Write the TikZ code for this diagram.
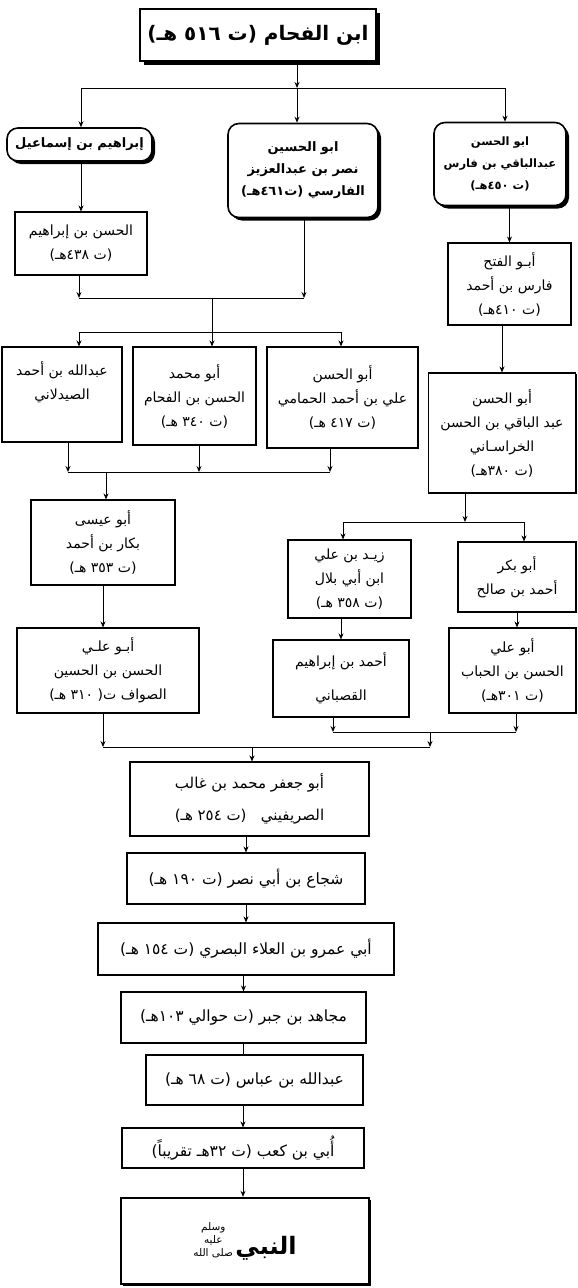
\documentclass[tikz,border=0pt]{standalone}
\usepackage{fontspec}
\usetikzlibrary{arrows.meta,shadows}
\newfontfamily\arabicfont[Script=Arabic]{DejaVu Sans}
\TeXXeTstate=1
\newcommand{\ar}[1]{\beginR #1\endR}
\newcommand{\nm}[1]{\beginL #1\endL}
\tikzset{
  basebox/.style={draw, line width=1.1pt, fill=white, align=center, inner sep=2pt,
    font=\arabicfont\fontsize{14}{24}\selectfont},
  box/.style={basebox, drop shadow={opacity=1, fill=black, shadow xshift=1.3pt, shadow yshift=-1.3pt}},
  chainbox/.style={box, font=\arabicfont\fontsize{15.5}{30}\selectfont},
  rbox/.style={basebox, rounded corners=11pt, line width=1.6pt,
    font=\arabicfont\bfseries\fontsize{13}{22}\selectfont,
    drop shadow={opacity=1, fill=black, shadow xshift=3pt, shadow yshift=-3pt}},
  arr/.style={line width=0.9pt, -{Stealth[length=6pt,width=5pt]}},
  ln/.style={line width=0.9pt}
}
\begin{document}
\begin{tikzpicture}[x=1pt,y=-1pt]
\useasboundingbox[fill=white] (0,0) rectangle (578,1288);
% title
\node[basebox, line width=2.4pt, minimum width=236pt, minimum height=52pt,
  font=\arabicfont\bfseries\fontsize{20}{24}\selectfont,
  drop shadow={opacity=1, fill=black, shadow xshift=3.5pt, shadow yshift=-3.5pt}]
  (T) at (258,35) {\ar{ابن الفحام (ت \nm{٥١٦} هـ)}};
% first row
\node[rbox, minimum width=145pt, minimum height=33pt] (A) at (79.5,144.5) {\ar{إبراهيم بن إسماعيل}};
\node[rbox, minimum width=150pt, minimum height=94pt] (B) at (303,170.5) {\ar{ابو الحسين}\\\ar{نصر بن عبدالعزيز}\\\ar{الفارسي (ت\nm{٤٦١}هـ)}};
\node[rbox, minimum width=132pt, minimum height=83pt, font=\arabicfont\bfseries\fontsize{11.5}{22}\selectfont] (C) at (500,164) {\ar{ابو الحسن}\\\ar{عبدالباقي بن فارس}\\\ar{(ت \nm{٤٥٠}هـ)}};
% second
\node[box, minimum width=132pt, minimum height=63pt] (D) at (81,243.5) {\ar{الحسن بن إبراهيم}\\\ar{(ت \nm{٤٣٨}هـ)}};
\node[box, minimum width=123pt, minimum height=82pt] (E) at (509.5,284) {\ar{أبـو الفتح}\\\ar{فارس بن أحمد}\\\ar{(ت \nm{٤١٠}هـ)}};
\node[box, minimum width=120pt, minimum height=95pt] (F1) at (62,394.5) {\ar{عبدالله بن أحمد}\\\ar{الصيدلاني}\\[4pt]};
\node[box, minimum width=123pt, minimum height=98pt] (F2) at (194.5,396) {\ar{أبو محمد}\\\ar{الحسن بن الفحام}\\\ar{(ت \nm{٣٤٠} هـ)}};
\node[box, minimum width=151pt, minimum height=101pt] (F3) at (342.5,397.5) {\ar{أبو الحسن}\\\ar{علي بن أحمد الحمامي}\\\ar{(ت \nm{٤١٧} هـ)}};
\node[box, minimum width=147pt, minimum height=120pt] (G) at (502,433) {\ar{أبو الحسن}\\\ar{عبد الباقي بن الحسن}\\\ar{الخراسـاني}\\\ar{(ت \nm{٣٨٠}هـ)}};
\node[box, minimum width=144pt, minimum height=85pt] (H) at (103,542.5) {\ar{أبو عيسى}\\\ar{بكار بن أحمد}\\\ar{(ت \nm{٣٥٣} هـ)}};
\node[box, minimum width=123pt, minimum height=78pt] (I) at (349.5,579) {\ar{زيـد بن علي}\\\ar{ابن أبي بلال}\\\ar{(ت \nm{٣٥٨} هـ)}};
\node[box, minimum width=118pt, minimum height=70pt] (J) at (517,577) {\ar{أبو بكر}\\\ar{أحمد بن صالح}};
\node[box, minimum width=182pt, minimum height=85pt] (K) at (108,670.5) {\ar{أبـو علـي}\\\ar{الحسن بن الحسين}\\\ar{الصواف ت( \nm{٣١٠} هـ)}};
\node[box, minimum width=136pt, minimum height=77pt, font=\arabicfont\fontsize{14}{34}\selectfont] (L) at (341,678.5) {\ar{أحمد بن إبراهيم}\\\ar{القصباني}};
\node[box, minimum width=127pt, minimum height=85pt] (M) at (512.5,670.5) {\ar{أبو علي}\\\ar{الحسن بن الحباب}\\\ar{(ت \nm{٣٠١}هـ)}};
\node[chainbox, minimum width=239pt, minimum height=74pt, font=\arabicfont\fontsize{15}{32}\selectfont] (N) at (249.5,799) {\ar{أبو جعفر محمد بن غالب}\\\ar{الصريفيني \ \ (ت \nm{٢٥٤} هـ)}};
\node[chainbox, minimum width=238pt, minimum height=51pt] (O) at (246,878.5) {\ar{شجاع بن أبي نصر (ت \nm{١٩٠} هـ)}};
\node[chainbox, minimum width=296pt, minimum height=52pt] (P) at (246,949) {\ar{أبي عمرو بن العلاء البصري (ت \nm{١٥٤} هـ)}};
\node[chainbox, minimum width=245pt, minimum height=51pt] (Q) at (243.5,1017.5) {\ar{مجاهد بن جبر (ت حوالي \nm{١٠٣}هـ)}};
\node[chainbox, minimum width=217pt, minimum height=50pt] (R) at (254.5,1080) {\ar{عبدالله بن عباس (ت \nm{٦٨} هـ)}};
\node[chainbox, minimum width=242pt, minimum height=40pt] (S) at (243,1148) {\ar{أُبي بن كعب (ت \nm{٣٢}هـ تقريباً)}};
\node[basebox, line width=2.4pt, minimum width=248pt, minimum height=86pt,
  drop shadow={opacity=1, fill=black, shadow xshift=1.5pt, shadow yshift=-1.5pt}]
  (U) at (245,1241) {\ar{{\bfseries\fontsize{24}{28}\selectfont النبي}\,\raisebox{-2pt}{\fontsize{10.5}{12}\selectfont\shortstack{\ar{وسلم}\\\ar{عليه}\\\ar{صلى الله}}}}};
% connectors: top
\coordinate (j0) at (297,88);
\coordinate (jA) at (81,88);
\coordinate (jC) at (505,88);
\draw[arr] (T.south -| j0) -- (j0);
\draw[ln] (jA) -- (jC);
\draw[arr] (jA) -- (jA |- A.north);
\draw[arr] (j0) -- (j0 |- B.north);
\draw[arr] (jC) -- (jC |- C.north);
\draw[arr] (D.north |- A.south) -- (D.north);
\draw[arr] (E.north |- C.south) -- (E.north);
\draw[arr] (G.north |- E.south) -- (G.north);
% merge D,B
\coordinate (k1) at (79,298);
\coordinate (k2) at (304,298);
\coordinate (k3) at (212,298);
\coordinate (k4) at (212,332);
\coordinate (m1) at (79,332);
\coordinate (m3) at (341,332);
\draw[arr] (k1 |- D.south) -- (k1);
\draw[arr] (k2 |- B.south) -- (k2);
\draw[ln] (k1) -- (k2);
\draw[ln] (k3) -- (k4);
\draw[ln] (m1) -- (m3);
\draw[arr] (m1) -- (m1 |- F1.north);
\draw[arr] (k4) -- (k4 |- F2.north);
\draw[arr] (m3) -- (m3 |- F3.north);
% merge F
\coordinate (n1) at (68,472);
\coordinate (n2) at (199,472);
\coordinate (n3) at (330,472);
\coordinate (n4) at (106,472);
\draw[arr] (n1 |- F1.south) -- (n1);
\draw[arr] (n2 |- F2.south) -- (n2);
\draw[arr] (n3 |- F3.south) -- (n3);
\draw[ln] (n1) -- (n3);
\draw[arr] (n4) -- (n4 |- H.north);
% split G
\coordinate (g1) at (465,522);
\coordinate (g2) at (343,522);
\coordinate (g3) at (524,522);
\draw[arr] (g1 |- G.south) -- (g1);
\draw[ln] (g2) -- (g3);
\draw[arr] (g2) -- (g2 |- I.north);
\draw[arr] (g3) -- (g3 |- J.north);
\draw[arr] (H.south) -- (H.south |- K.north);
\draw[arr] (L.north |- I.south) -- (L.north);
\draw[arr] (J.south) -- (J.south |- M.north);
% merge L,M,K
\coordinate (p1) at (333,732);
\coordinate (p2) at (516,732);
\coordinate (p3) at (430,732);
\coordinate (p4) at (430,747);
\coordinate (q1) at (103,747);
\coordinate (q2) at (252,747);
\draw[arr] (p1 |- L.south) -- (p1);
\draw[arr] (p2 |- M.south) -- (p2);
\draw[ln] (p1) -- (p2);
\draw[arr] (p3) -- (p4);
\draw[arr] (q1 |- K.south) -- (q1);
\draw[ln] (q1) -- (p4);
\draw[arr] (q2) -- (q2 |- N.north);
% chain
\draw[arr] (O.north |- N.south) -- (O.north);
\draw[arr] (P.north |- O.south) -- (P.north);
\draw[arr] (Q.north |- P.south) -- (Q.north);
\draw[ln] (Q.south) -- (Q.south |- R.north);
\draw[arr] (S.north |- R.south) -- (S.north);
\draw[arr] (S.south) -- (S.south |- U.north);
\end{tikzpicture}
\end{document}
